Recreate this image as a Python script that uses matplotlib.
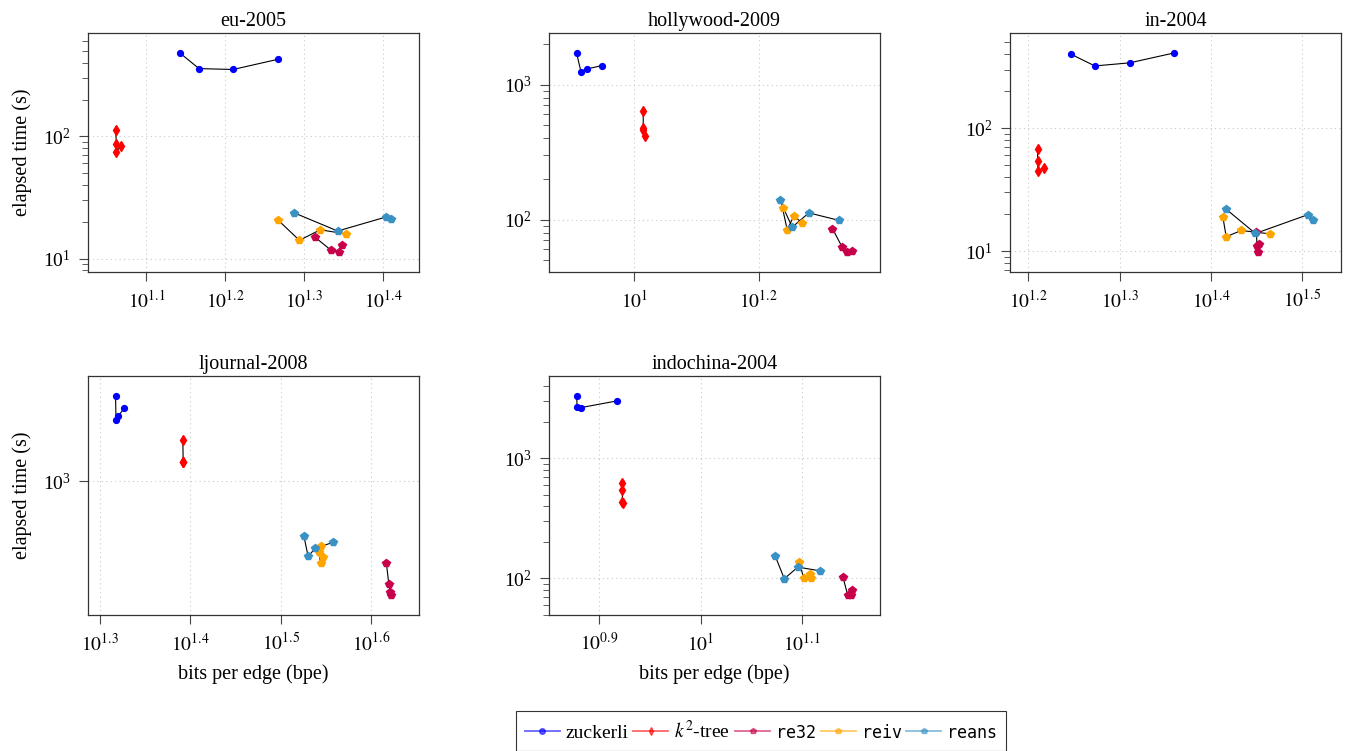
import numpy as np
import matplotlib
matplotlib.use('Agg')
import matplotlib.pyplot as plt
from matplotlib.lines import Line2D
from matplotlib.ticker import FixedLocator, NullLocator, NullFormatter, LogLocator

plt.rcParams['font.family'] = ['Liberation Serif', 'DejaVu Serif']
plt.rcParams['mathtext.fontset'] = 'stix'

# data: bits per edge (x) and elapsed time in seconds (y)
graphs = ['eu-2005', 'hollywood-2009', 'in-2004', 'ljournal-2008', 'indochina-2004']
methods = ['zuckerli', 'k2-tree', 're32', 'reiv', 'reans']

eu_bpe = {
    'zuckerli': [13.88, 14.68, 16.21, 18.49],
    'k2-tree': [11.51, 11.54, 11.69, 11.51],
    're32': [20.60, 21.57, 22.06, 22.27],
    'reiv': [18.49, 19.67, 20.90, 22.53],
    'reans': [19.36, 21.99, 25.33, 25.72],
}
eu_time = {
    'zuckerli': [481, 358, 352, 427],
    'k2-tree': [113, 87.1, 82.8, 74.1],
    're32': [14.9, 11.7, 11.3, 12.8],
    'reiv': [20.6, 14.1, 17.2, 15.9],
    'reans': [23.7, 16.8, 21.9, 20.9],
}

hw_bpe = {
    'zuckerli': [8.08, 8.21, 8.41, 8.87],
    'k2-tree': [10.34, 10.34, 10.32, 10.40],
    're32': [20.83, 21.59, 21.97, 22.43],
    'reiv': [17.32, 17.62, 18.06, 18.62],
    'reans': [17.13, 17.95, 19.09, 21.38],
}
hw_time = {
    'zuckerli': [1714, 1247, 1306, 1381],
    'k2-tree': [638, 473, 457, 413],
    're32': [85.8, 62.5, 57.4, 58.3],
    'reiv': [121, 83.9, 106.4, 94.5],
    'reans': [140.5, 87.8, 112, 98.4],
}

in_bpe = {
    'zuckerli': [17.65, 18.74, 20.46, 22.90],
    'k2-tree': [16.22, 16.22, 16.23, 16.50],
    're32': [28.18, 28.22, 28.28, 28.35],
    'reiv': [25.89, 26.11, 27.12, 29.15],
    'reans': [26.09, 28.11, 32.11, 32.54],
}
in_time = {
    'zuckerli': [401, 322, 341, 411],
    'k2-tree': [68.0, 54.0, 45.1, 47.7],
    're32': [14.2, 10.9, 9.8, 11.4],
    'reiv': [19.0, 13.07, 14.7, 13.8],
    'reans': [22.0, 13.9, 19.8, 17.9],
}

lj_bpe = {
    'zuckerli': [20.78, 20.80, 20.92, 21.24],
    'k2-tree': [24.66, 24.68, 24.69, 24.70],
    're32': [41.40, 41.65, 41.79, 41.93],
    'reiv': [35.06, 34.83, 35.03, 35.26],
    'reans': [33.55, 33.92, 34.52, 36.10],
}
lj_time = {
    'zuckerli': [3820, 2618, 2775, 3148],
    'k2-tree': [1903, 1360, 1355, 1341],
    're32': [273, 198.5, 174, 166],
    'reiv': [359, 327, 275, 303],
    'reans': [424, 305, 346, 380],
}

ic_bpe = {
    'zuckerli': [7.54, 7.55, 7.62, 8.27],
    'k2-tree': [8.36, 8.37, 8.37, 8.38],
    're32': [13.83, 13.98, 14.08, 14.13],
    'reiv': [12.50, 12.66, 12.83, 12.85],
    'reans': [11.85, 12.10, 12.48, 13.11],
}
ic_time = {
    'zuckerli': [3326, 2710, 2660, 3024],
    'k2-tree': [623, 544, 435, 424],
    're32': [102, 72.6, 72.6, 79.4],
    'reiv': [137, 100, 108.7, 100],
    'reans': [154.5, 99.4, 124.3, 115.8],
}

all_bpe = [eu_bpe, hw_bpe, in_bpe, lj_bpe, ic_bpe]
all_time = [eu_time, hw_time, in_time, lj_time, ic_time]
x_step = [0.1, 0.2, 0.1, 0.1, 0.1]

colors = {'zuckerli': '#0000ff', 'k2-tree': '#ff0000', 're32': '#c8004c',
          'reiv': '#ffa500', 'reans': '#3a91c4'}
markers = {'zuckerli': 'o', 'k2-tree': 'd', 're32': 'p', 'reiv': 'p', 'reans': 'p'}
msize = {'zuckerli': 4.2, 'k2-tree': 4.8, 're32': 5.5, 'reiv': 5.5, 'reans': 5.5}
labels = {'zuckerli': 'zuckerli', 'k2-tree': '$k^2$-tree', 're32': 're32',
          'reiv': 'reiv', 'reans': 'reans'}

fig = plt.figure(figsize=(13.5, 7.51), dpi=100)

W, H = 1350, 751
boxes = [(88, 33), (549, 33), (1010, 33), (88, 376), (549, 376)]
aw, ah = 331, 239

for i, g in enumerate(graphs):
    l, t = boxes[i]
    ax = fig.add_axes([l / W, 1 - (t + ah) / H, aw / W, ah / H])
    ax.set_xscale('log')
    ax.set_yscale('log')
    for m in methods:
        ax.plot(all_bpe[i][m], all_time[i][m], color='black', lw=0.8, zorder=2)
        ax.plot(all_bpe[i][m], all_time[i][m], ls='none', marker=markers[m],
                ms=msize[m], color=colors[m], mec=colors[m], mew=1.0, zorder=3)
    ax.margins(0.1)
    ax.autoscale_view()

    # fractional log ticks on x like pgfplots
    lo, hi = np.log10(ax.get_xlim())
    st = x_step[i]
    ex = np.arange(np.ceil(lo / st - 1e-9) * st, hi, st)
    ax.xaxis.set_major_locator(FixedLocator(10 ** ex))
    ax.xaxis.set_minor_locator(NullLocator())
    ax.set_xticklabels(['$10^{%d}$' % round(e) if abs(e - round(e)) < 1e-6 else '$10^{%.1f}$' % e
                        for e in ex])
    ax.xaxis.set_minor_formatter(NullFormatter())

    ax.yaxis.set_major_locator(LogLocator(base=10))
    if g == 'ljournal-2008':
        ax.yaxis.set_minor_locator(NullLocator())
    else:
        ax.yaxis.set_minor_locator(LogLocator(base=10, subs=np.arange(2, 10)))
    ax.yaxis.set_minor_formatter(NullFormatter())

    ax.tick_params(which='major', direction='out', length=6.5, width=0.8,
                   color='#444444', labelsize=14, pad=6, top=False, right=False)
    ax.tick_params(which='minor', direction='out', length=4.5, width=0.6,
                   color='#444444', top=False, right=False)
    ax.grid(True, which='major', ls=(0, (1, 3)), color='#c8c8c8', lw=0.8)
    ax.set_axisbelow(True)
    for s in ax.spines.values():
        s.set_color('#333333')
        s.set_linewidth(0.9)

    ax.set_title(g, fontsize=14.5, pad=5)
    if i in (0, 3):
        ax.set_ylabel('elapsed time (s)', fontsize=14.5, labelpad=8)
    if i in (3, 4):
        ax.set_xlabel('bits per edge (bpe)', fontsize=14.5, labelpad=7)

handles = [Line2D([], [], color=colors[m], alpha=0.6, lw=1.3, marker=markers[m],
                  ms=4, mfc=colors[m], mec=colors[m]) for m in methods]
leg = fig.legend(handles, [labels[m] for m in methods], loc='center',
                 bbox_to_anchor=(761 / W, 1 - 731 / H), ncol=5, fontsize=14,
                 frameon=True, fancybox=False, edgecolor='black',
                 handlelength=1.8, handletextpad=0.3, columnspacing=0.25,
                 borderpad=0.45, borderaxespad=0)
leg.get_frame().set_linewidth(0.8)
for txt, m in zip(leg.get_texts(), methods):
    if m.startswith('re'):
        txt.set_family('DejaVu Sans Mono')
        txt.set_fontsize(12)

fig.savefig('out.png', dpi=100)
